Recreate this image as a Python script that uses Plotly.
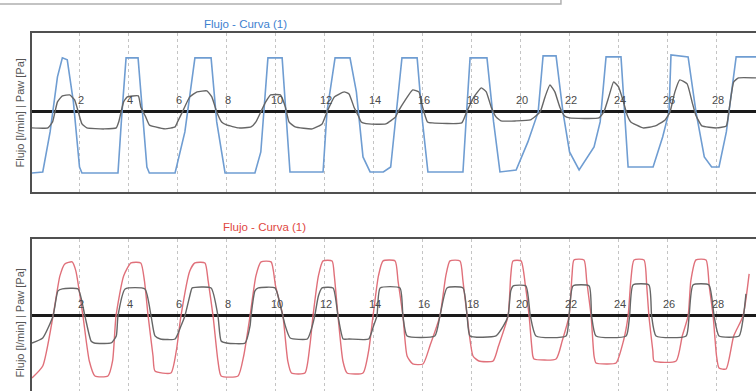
import plotly.graph_objects as go

# ---------------- data (time in s, flow l/min / pressure) ----------------
tick_vals = [2, 4, 6, 8, 10, 12, 14, 16, 18, 20, 22, 24, 26, 28]
title_text = "Flujo - Curva (1)"
ylabel_text = "Flujo [l/min] | Paw [Pa]"

# Top panel: blue flow curve
blue_t = [0.06, 0.5, 0.8, 1.1, 1.3, 1.5, 1.75, 2.0, 2.1, 3.57, 3.72, 3.9, 4.39, 4.5, 4.75, 4.85,
          5.5, 5.9, 6.3, 6.71, 7.37, 7.6, 7.94, 9.16, 9.4, 9.69, 10.27, 10.59, 11.94, 12.1, 12.43,
          13.04, 13.3, 13.57, 13.86, 14.4, 14.7, 14.85, 15.16, 15.78, 16.0, 16.22, 17.65, 17.8,
          17.94, 18.63, 18.9, 19.16, 19.82, 20.3, 20.72, 20.92, 21.45, 21.73, 22.0, 22.39, 23.0,
          23.25, 23.49, 24.1, 24.39, 25.41, 25.8, 26.06, 26.14, 26.84, 27.16, 27.5, 27.8, 28.1,
          28.4, 28.8, 29.61]
blue_v = [-61, -60, -20, 35, 54, 52, 10, -55, -61, -61, -5, 54, 54, 20, -55, -61,
          -61, -61, -20, 54, 54, -10, -61, -61, -40, 54, 54, -60, -60, 0, 54,
          54, 20, -45, -60, -60, -55, -20, 54, 54, -10, -60, -60, 0,
          54, 54, -10, -60, -58, -30, 0, 56, 56, 0, -40, -58, -35,
          -10, 55, 55, -55, -55, -25, 0, 57, 55, 0, -45, -55, -55,
          -20, 55, 55]

# Top panel: gray pressure curve
gray1_t = [0.06, 0.71, 0.9, 1.1, 1.3, 1.6, 1.8, 1.95, 2.1, 2.3, 3.0, 3.5, 3.6, 3.8, 3.95, 4.4,
           4.5, 4.7, 4.85, 5.1, 5.5, 5.9, 6.0, 6.2, 6.5, 6.8, 7.2, 7.4, 7.6, 7.8, 8.0, 8.5, 9.0,
           9.2, 9.4, 9.6, 9.8, 10.2, 10.4, 10.55, 10.8, 11.5, 11.9, 12.1, 12.4, 12.8, 13.0, 13.2,
           13.4, 13.5, 13.8, 14.5, 14.9, 15.0, 15.3, 15.6, 15.85, 16.0, 16.2, 16.4, 17.6, 17.8,
           18.1, 18.4, 18.6, 18.8, 19.0, 19.2, 19.8, 20.4, 20.8, 21.0, 21.2, 21.4, 21.6, 21.8,
           22.0, 23.2, 23.4, 23.6, 23.8, 24.0, 24.2, 24.35, 24.5, 25.0, 25.5, 25.9, 26.1, 26.3,
           26.5, 26.8, 27.0, 27.15, 27.4, 28.0, 28.4, 28.5, 28.7, 28.9, 29.61]
gray1_v = [-16, -16, -10, 10, 16, 17, 12, 0, -12, -16, -17, -16, -10, 10, 15, 16,
           5, -5, -13, -15, -17, -15, -10, 0, 15, 20, 21, 15, 0, -10, -13, -16, -15,
           -10, 0, 10, 17, 17, 5, -10, -15, -17, -12, 0, 15, 20, 18, 5,
           -5, -10, -12, -12, -5, 0, 12, 22, 20, 5, -10, -11, -11, 0,
           15, 24, 20, 5, -5, -9, -9, -8, 0, 15, 27, 20, 5, -4,
           -6, -6, 0, 15, 30, 25, 10, -3, -10, -16, -14, -8, 0, 20,
           32, 28, 10, -3, -14, -16, -14, 0, 30, 34, 34]

# Bottom panel: red flow curve
red_t = [0.06, 0.5, 0.92, 1.2, 1.4, 1.7, 1.85, 2.14, 2.4, 2.63, 3.16, 3.35, 3.49, 3.8, 4.1, 4.5,
         4.65, 4.8, 5.0, 5.08, 5.73, 5.95, 6.14, 6.5, 6.71, 7.12, 7.25, 7.45, 7.65, 7.78, 8.47,
         8.7, 8.96, 9.2, 9.41, 9.82, 10.0, 10.3, 10.5, 10.65, 11.2, 11.4, 11.53, 11.75, 11.94,
         12.31, 12.4, 12.55, 12.75, 12.92, 13.57, 13.8, 13.98, 14.2, 14.39, 14.88, 15.0, 15.2,
         15.37, 15.6, 16.02, 16.3, 16.71, 16.95, 17.12, 17.53, 17.65, 17.82, 18.06, 18.3, 18.88,
         19.1, 19.49, 19.6, 19.69, 20.02, 20.2, 20.35, 20.5, 20.55, 21.45, 21.7, 21.98, 22.1,
         22.18, 22.59, 22.7, 22.88, 23.0, 23.08, 23.5, 23.9, 24.2, 24.39, 24.5, 24.63, 25.04,
         25.15, 25.24, 25.4, 25.45, 26.35, 26.6, 26.84, 26.95, 27.16, 27.57, 27.7, 27.86, 28.0,
         28.1, 28.39, 28.7, 29.08, 29.33]
red_v = [-62, -50, 0, 40, 52, 54, 45, 0, -45, -60, -60, -45, 0, 40, 53, 53,
         35, 0, -40, -55, -57, -35, 0, 45, 53, 53, 35, 0, -45, -60, -60,
         -40, 0, 40, 54, 54, 30, 0, -45, -57, -57, -30, 0, 40, 55,
         55, 40, 0, -45, -57, -57, -35, 0, 40, 55, 55, 35, 0,
         -40, -48, -48, -30, 0, 40, 55, 55, 35, 0, -40, -45, -45,
         -30, 0, 40, 55, 55, 30, 0, -40, -43, -43, -25, 0, 40,
         56, 56, 35, 0, -40, -47, -48, -47, -25, 0, 35, 56, 56,
         30, 0, -35, -45, -45, -20, 0, 35, 56, 56, 30, 0, -40,
         -52, -53, -20, 0, 42]

# Bottom panel: gray pressure curve
gray2_t = [0.06, 0.5, 0.92, 1.12, 1.3, 1.94, 2.22, 2.47, 2.6, 3.29, 3.5, 3.57, 3.86, 4.67, 4.92,
           5.08, 5.3, 5.9, 6.14, 6.3, 6.55, 6.6, 7.37, 7.65, 7.78, 8.0, 8.76, 8.96, 9.0, 9.16,
           9.3, 9.98, 10.2, 10.4, 10.6, 11.3, 11.5, 11.6, 11.75, 11.9, 12.35, 12.55, 12.76, 13.0,
           13.8, 14.0, 14.14, 14.27, 15.08, 15.2, 15.37, 16.5, 16.71, 17.0, 17.65, 17.82, 17.94,
           19.0, 19.3, 19.49, 19.6, 19.7, 20.22, 20.4, 20.63, 21.86, 21.98, 22.14, 22.8, 22.9,
           23.08, 24.31, 24.45, 24.59, 25.24, 25.35, 25.53, 26.76, 26.88, 27.04, 27.69, 27.9,
           28.1, 28.92, 29.1, 29.2]
gray2_v = [-27, -22, 0, 25, 27, 27, 0, -25, -27, -27, -20, 0, 27, 27, 0,
           -20, -23, -23, -10, 0, 25, 28, 28, 0, -25, -27, -27, -10, 0, 25,
           28, 28, 10, -10, -22, -23, -10, 0, 20, 28, 28, 0, -23, -23,
           -23, -10, 0, 28, 28, 0, -20, -20, 0, 28, 28, 0, -20,
           -20, -10, 0, 25, 30, 30, 0, -20, -20, 0, 30, 30, 0,
           -20, -20, 0, 31, 31, 0, -20, -20, 0, 31, 31, 0,
           -20, -20, 0, 22]

# ---------------- figure ----------------
BLUE = "#6f9dd2"
RED = "#e0707a"
GRAY = "#666666"
FRAME = "#505050"

fig = go.Figure()
fig.add_trace(go.Scatter(x=blue_t, y=blue_v, mode="lines",
                         line=dict(color=BLUE, width=1.6),
                         xaxis="x", yaxis="y", hoverinfo="skip"))
fig.add_trace(go.Scatter(x=gray1_t, y=gray1_v, mode="lines",
                         line=dict(color=GRAY, width=1.4, shape="spline", smoothing=0.4),
                         xaxis="x", yaxis="y", hoverinfo="skip"))
fig.add_trace(go.Scatter(x=red_t, y=red_v, mode="lines",
                         line=dict(color=RED, width=1.4, shape="spline", smoothing=0.55),
                         xaxis="x2", yaxis="y2", hoverinfo="skip"))
fig.add_trace(go.Scatter(x=gray2_t, y=gray2_v, mode="lines",
                         line=dict(color=GRAY, width=1.4, shape="spline", smoothing=0.5),
                         xaxis="x2", yaxis="y2", hoverinfo="skip"))

xcommon = dict(range=[0.06, 29.61], tick0=0, dtick=2, showticklabels=False, ticks="",
               showgrid=True, gridcolor="#c4c4c4", griddash="dot", gridwidth=1,
               zeroline=False, showline=True, linecolor=FRAME, linewidth=2)
ycommon = dict(showticklabels=False, ticks="", showgrid=False, zeroline=True,
               zerolinecolor="#1a1a1a", zerolinewidth=2.5, showline=True,
               linecolor=FRAME, linewidth=2, mirror=False)

annotations = []
for v in tick_vals:
    annotations.append(dict(x=v, y=0, xref="x", yref="y", text=str(v), showarrow=False,
                            xanchor="center", yanchor="middle",
                            yshift=12, xshift=1, font=dict(size=11, color="#4a4a4a")))
    annotations.append(dict(x=v, y=0, xref="x2", yref="y2", text=str(v), showarrow=False,
                            xanchor="center", yanchor="middle",
                            yshift=12, xshift=1, font=dict(size=11, color="#4a4a4a")))

annotations += [
    dict(x=0.325, y=0.9386, xref="paper", yref="paper", text=title_text, showarrow=False,
         xanchor="center", yanchor="middle", font=dict(size=11.5, color="#3d7fcf")),
    dict(x=0.3505, y=0.419, xref="paper", yref="paper", text=title_text, showarrow=False,
         xanchor="center", yanchor="middle", font=dict(size=11.5, color="#e0473f")),
    dict(x=0.027, y=0.711, xref="paper", yref="paper", text=ylabel_text, showarrow=False,
         xanchor="center", yanchor="middle",
         textangle=-90, font=dict(size=11, color="#555555")),
    dict(x=0.027, y=0.174, xref="paper", yref="paper", text=ylabel_text, showarrow=False,
         xanchor="center", yanchor="middle",
         textangle=-90, font=dict(size=11, color="#555555")),
]

fig.update_layout(
    width=756, height=391,
    margin=dict(l=0, r=0, t=0, b=0),
    paper_bgcolor="white", plot_bgcolor="white",
    showlegend=False,
    font=dict(family="Liberation Sans, Arial, sans-serif"),
    xaxis=dict(domain=[0.0423, 1.0], anchor="y", mirror=True, **xcommon),
    yaxis=dict(domain=[0.509, 0.916], anchor="x", range=[-80, 79], **ycommon),
    xaxis2=dict(domain=[0.0423, 1.0], anchor="y2", side="top", mirror=False, **xcommon),
    yaxis2=dict(domain=[0.0, 0.389], anchor="x2", range=[-75, 77], **ycommon),
    annotations=annotations,
    shapes=[dict(type="rect", xref="paper", yref="paper", x0=-0.01, x1=0.742,
                 y0=0.9898, y1=1.05, line=dict(color="#b0b0b0", width=1.5),
                 fillcolor="rgba(0,0,0,0)")],
)

fig.write_html("out.html")
